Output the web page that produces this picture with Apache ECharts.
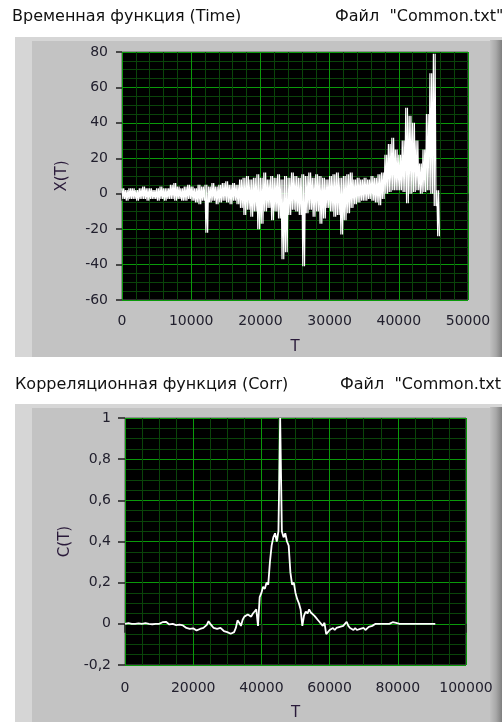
<!DOCTYPE html>
<html>
<head>
<meta charset="utf-8">
<script src="https://cdn.jsdelivr.net/npm/echarts@6/dist/echarts.min.js"></script>
<style>
  html, body { margin: 0; padding: 0; background: #ffffff; }
  #chart { width: 502px; height: 722px; }
</style>
</head>
<body>
<div id="chart"></div>
<script>
// Time signal X(T): per 500-sample bin, upper and lower excursion of the trace
const timeStep = 500;
const timeHi = [
  3, 2, 3, 3, 2, 3, 4, 3, 3, 2,
  3, 4, 3, 3, 5, 6, 4, 3, 4, 5,
  4, 3, 5, 4, 5, 4, 6, 4, 5, 6,
  7, 5, 6, 5, 8, 9, 10, 8, 9, 11,
  9, 12, 8, 10, 9, 11, 8, 10, 9, 12,
  10, 9, 11, 10, 12, 9, 11, 10, 9, 8,
  10, 11, 12, 9, 10, 11, 12, 8, 9, 8,
  9, 8, 10, 9, 11, 12, 22, 28, 31.6, 25,
  22, 30, 48.5, 44, 40, 30, 17, 25, 45, 68, 79, 2
];
const timeLo = [
  -3, -4, -3, -3, -4, -3, -3, -4, -3, -3,
  -4, -3, -4, -3, -3, -4, -3, -4, -4, -3,
  -4, -5, -6, -4, -22, -5, -4, -6, -5, -4,
  -5, -6, -4, -6, -8, -12, -9, -13, -10, -20,
  -17, -10, -8, -15, -10, -14, -37, -33, -12, -9,
  -10, -12, -41, -11, -9, -13, -10, -17, -14, -8,
  -10, -13, -12, -23, -15, -11, -8, -6, -5, -4,
  -4, -3, -4, -5, -6.5, -3, 0, 1, 2, 2,
  2, 1, -5.4, 0, 1, 2, 0, 1, 2, 0, -7, -24
];

// Correlation function C(T), sampled every 500
const corrStep = 500;
const corrValues = [
  0, 0, 0.003, 0, 0, -0.002, 0, 0, 0.002, 0, 0, 0, 0.003, 0, 0, 0, -0.002, 0, 0, 0, 0,
  0.005, 0.008, 0.013, 0.01, 0.004, -0.003, -0.005, 0, 0.004, -0.006, -0.01, -0.004, 0.003, -0.008, -0.012, -0.02,
  -0.015, -0.025, -0.03, -0.022, -0.028, -0.032, -0.03, -0.025, -0.03, -0.02, -0.015, -0.005, 0.013, 0,
  -0.01, -0.02, -0.015, -0.025, -0.03, -0.02, -0.028, -0.035, -0.03, -0.04, -0.045, -0.048, -0.053, -0.04,
  -0.02, 0.017, 0.005, -0.01, 0.02, 0.035, 0.03, 0.045, 0.04, 0.035, 0.05, 0.06, 0.07, -0.01,
  0.13, 0.15, 0.18, 0.17, 0.2, 0.19, 0.3, 0.38, 0.42, 0.44, 0.4, 0.45,
  1.0,
  0.45, 0.42, 0.44, 0.4, 0.38, 0.25, 0.19, 0.2, 0.15, 0.12, 0.1, 0.07, -0.01,
  0.04, 0.06, 0.05, 0.07, 0.055, 0.05, 0.04, 0.03, 0.02, 0.01, 0, -0.01, 0.005, -0.05,
  -0.04, -0.03, -0.025, -0.02, -0.03, -0.02, -0.025, -0.015, -0.02, -0.01, -0.005, 0.01, -0.01, -0.02,
  -0.025, -0.03, -0.02, -0.03, -0.035, -0.025, -0.03, -0.02, -0.03, -0.025, -0.015, -0.02, -0.01, -0.005,
  0, -0.005, 0, 0.003, 0, -0.002, 0, 0.005, 0, 0.002, 0.008, 0.013, 0.005, 0,
  0, 0.002, 0, 0, 0, 0, 0, 0, 0, 0, 0, 0, 0, 0, 0, 0, 0, 0.002, 0, 0.003, 0, 0
];

// Axis settings
const timeXAxis = { min: 0, max: 50000, interval: 10000 };
const timeYAxis = { min: -60, max: 80, interval: 20 };
const corrXAxis = { min: 0, max: 100000, interval: 20000 };
const corrYAxis = { min: -0.2, max: 1, interval: 0.2 };

const titleTop = 'Временная функция (Time)';
const titleBottom = 'Корреляционная функция (Corr)';
const fileLabel = 'Файл  "Common.txt"';

// Build the dense trace: the signal swings between the high and low
// excursion of each bin several times, so the band reads as solid
const timeData = [];
const swings = 2;
timeHi.forEach((h, i) => {
  const sub = timeStep / (2 * swings);
  for (let k = 0; k < swings; k++) {
    const t0 = i * timeStep + 2 * k * sub;
    timeData.push([t0, h]);
    timeData.push([t0 + sub, timeLo[i]]);
  }
});
const corrData = corrValues.map((v, i) => [i * corrStep, v]);

const FONT = 'DejaVu Sans';
const tickColor = '#22202e';
const majorGrid = '#0a9a0a';
const minorGrid = '#0a440a';

function commaFmt(v) {
  return String(+(+v).toFixed(1)).replace('.', ',');
}
function plainFmt(v) {
  return String(v);
}

function makeX(gridIndex, cfg, minorN, offset, tickLen, margin, nameGap) {
  return {
    type: 'value', gridIndex, min: cfg.min, max: cfg.max, interval: cfg.interval,
    position: 'bottom', offset,
    name: 'T', nameLocation: 'middle', nameGap,
    nameTextStyle: { fontFamily: FONT, fontSize: 15, color: '#2a1a3a' },
    axisLine: { show: false },
    axisTick: { show: true, length: tickLen, lineStyle: { color: '#202020', width: 1.5 } },
    axisLabel: { margin, fontFamily: FONT, fontSize: 14, color: tickColor, formatter: plainFmt, showMinLabel: true, showMaxLabel: true },
    splitLine: { show: true, lineStyle: { color: majorGrid, width: 1 } },
    minorTick: { show: false, splitNumber: minorN },
    minorSplitLine: { show: true, lineStyle: { color: minorGrid, width: 1 } }
  };
}

function makeY(gridIndex, cfg, minorN, name, offset, tickLen, margin, nameGap, fmt) {
  return {
    type: 'value', gridIndex, min: cfg.min, max: cfg.max, interval: cfg.interval,
    position: 'left', offset,
    name, nameLocation: 'middle', nameGap,
    nameTextStyle: { fontFamily: FONT, fontSize: 15, color: '#2a1a3a' },
    axisLine: { show: false },
    axisTick: { show: true, length: tickLen, lineStyle: { color: '#202020', width: 1.5 } },
    axisLabel: { margin, fontFamily: FONT, fontSize: 14, color: tickColor, formatter: fmt, showMinLabel: true, showMaxLabel: true },
    splitLine: { show: true, lineStyle: { color: majorGrid, width: 1 } },
    minorTick: { show: false, splitNumber: minorN },
    minorSplitLine: { show: true, lineStyle: { color: minorGrid, width: 1 } }
  };
}

// Bevelled grey panel behind each graph
function panel(y0, y1) {
  return [
    { type: 'rect', z: -20, shape: { x: 15, y: y0, width: 487, height: y1 - y0 }, style: { fill: '#d6d6d6' } },
    { type: 'rect', z: -19, shape: { x: 32, y: y0 + 4, width: 458, height: y1 - y0 - 4 }, style: { fill: '#c3c3c3' } },
    { type: 'rect', z: -19, shape: { x: 490, y: y0 + 3, width: 12, height: y1 - y0 - 3 },
      style: { fill: new echarts.graphic.LinearGradient(0, 0, 1, 0, [
        { offset: 0, color: '#c0c0c0' }, { offset: 0.5, color: '#a8a8a8' }, { offset: 1, color: '#7e7e7e' }
      ]) } }
  ];
}

function label(text, x, y) {
  return { type: 'text', z: 5, x, y,
    style: { text, fontFamily: FONT, fontSize: 16, fill: '#111', textVerticalAlign: 'middle' } };
}

const chart = echarts.init(document.getElementById('chart'), null, { renderer: 'canvas' });
chart.setOption({
  animation: false,
  backgroundColor: '#ffffff',
  graphic: [
    ...panel(37, 357),
    ...panel(404, 722),
    label(titleTop, 12, 17),
    label(fileLabel, 335, 17),
    label(titleBottom, 15, 385),
    label(fileLabel, 340, 385)
  ],
  grid: [
    { left: 122, top: 52, width: 346, height: 248, show: true, backgroundColor: '#000000', borderColor: '#5a5a5a', borderWidth: 1 },
    { left: 125, top: 418, width: 341, height: 248, show: true, backgroundColor: '#000000', borderColor: '#5a5a5a', borderWidth: 1 }
  ],
  xAxis: [
    makeX(0, timeXAxis, 5, 3, 7, 11, 37),
    makeX(1, corrXAxis, 4, 1, 9, 15, 40)
  ],
  yAxis: [
    makeY(0, timeYAxis, 4, 'X(T)', 3, 6, 11, 49, plainFmt),
    makeY(1, corrYAxis, 4, 'C(T)', 3, 7, 11, 44, commaFmt)
  ],
  series: [
    { type: 'line', xAxisIndex: 0, yAxisIndex: 0, data: timeData, showSymbol: false, symbol: 'none',
      lineStyle: { color: '#ffffff', width: 1.2 }, z: 3 },
    { type: 'line', xAxisIndex: 1, yAxisIndex: 1, data: corrData, showSymbol: false, symbol: 'none',
      lineStyle: { color: '#ffffff', width: 1.8 }, z: 3 }
  ]
});
</script>
</body>
</html>
